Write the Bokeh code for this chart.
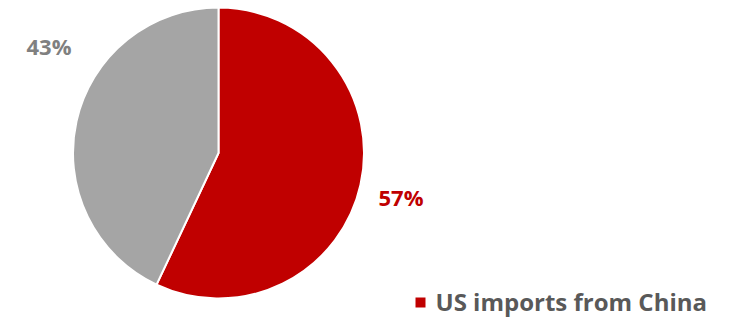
import math
from bokeh.plotting import figure
from bokeh.core.properties import value
from bokeh.embed import file_html
from bokeh.resources import INLINE

# Data
categories = ["US imports from China", "Other"]
shares = [57, 43]
colors = ["#C00000", "#A5A5A5"]
label_colors = ["#C00000", "#808080"]
label_texts = ["57%", "43%"]
legend_label = categories[0]

W, H = 743, 320
p = figure(width=W, height=H, x_range=(0, W), y_range=(0, H),
           output_backend="svg", toolbar_location=None, min_border=0,
           outline_line_color=None)
p.axis.visible = False
p.grid.visible = False
p.background_fill_color = "white"

# wedges: start at 12 o'clock, go clockwise
total = sum(shares)
starts, ends = [], []
cum = 0.0
for s in shares:
    a_end = math.pi / 2 - 2 * math.pi * cum / total
    a_start = math.pi / 2 - 2 * math.pi * (cum + s) / total
    starts.append(a_start)
    ends.append(a_end)
    cum += s

cx, cy, r = 218, H - 152.5, 145.5
for i in range(len(categories)):
    p.wedge(x=cx, y=cy, radius=r, radius_units="screen",
            start_angle=starts[i], end_angle=ends[i],
            fill_color=colors[i], line_color="white", line_width=2)

# percentage labels
p.text(x=[378, 26], y=[H - 196, H - 45], text=label_texts,
       text_color=label_colors, text_font=value("Open Sans"),
       text_font_style="bold", text_font_size="22px",
       text_align="left", text_baseline="middle")

# legend (manual)
p.scatter(x=[420], y=[H - 302], marker="square", size=10,
          fill_color=colors[0], line_color=None)
p.text(x=[435], y=[H - 301], text=[legend_label],
       text_color="#595959", text_font=value("Open Sans"),
       text_font_style="bold", text_font_size="24px",
       text_align="left", text_baseline="middle")

open("out.html", "w").write(file_html(p, INLINE))
